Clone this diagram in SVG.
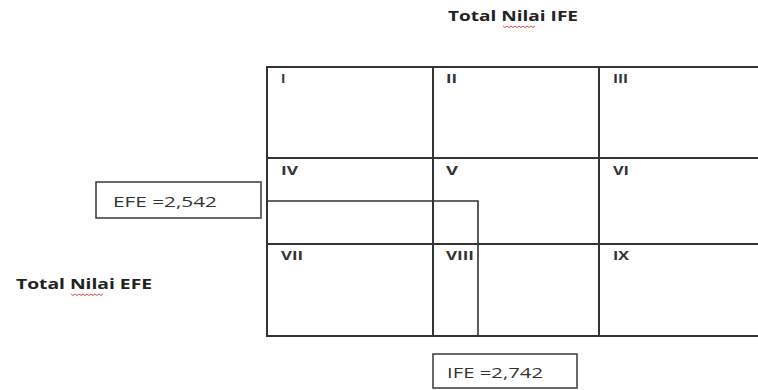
<svg xmlns="http://www.w3.org/2000/svg" width="758" height="390" viewBox="0 0 758 390">
<style>
.t{font-family:"Open Sans","Liberation Sans",sans-serif;font-weight:bold;font-size:14px;fill:#222}
.c{font-family:"Open Sans","Liberation Sans",sans-serif;font-weight:bold;font-size:13px;fill:#333}
.v{font-family:"Open Sans","Liberation Sans",sans-serif;font-size:15px;fill:#333}
.g{stroke:#333;stroke-width:2;fill:none}
.b{stroke:#444;stroke-width:1.6;fill:#fff}
.sq{stroke:#d04040;stroke-width:0.9;fill:none}
</style>
<rect width="758" height="390" fill="#fff"/>
<g id="title-ife">
<text class="t" x="448" y="21" textLength="130" lengthAdjust="spacingAndGlyphs">Total Nilai IFE</text>
<path class="sq" d="M503 26 l2 1.5 l2 -1.5 l2 1.5 l2 -1.5 l2 1.5 l2 -1.5 l2 1.5 l2 -1.5 l2 1.5 l2 -1.5 l2 1.5 l2 -1.5 l2 1.5 l2 -1.5 l2 1.5 l2 -1.5"/>
</g>
<g id="title-efe">
<text class="t" x="16" y="289" textLength="136" lengthAdjust="spacingAndGlyphs" style="font-size:15px">Total Nilai EFE</text>
<path class="sq" d="M71 294 l2 1.5 l2 -1.5 l2 1.5 l2 -1.5 l2 1.5 l2 -1.5 l2 1.5 l2 -1.5 l2 1.5 l2 -1.5 l2 1.5 l2 -1.5 l2 1.5 l2 -1.5 l2 1.5 l2 -1.5"/>
</g>
<g id="grid">
<rect class="g" x="267" y="67" width="492" height="269"/>
<line class="g" x1="433" y1="67" x2="433" y2="336"/>
<line class="g" x1="599" y1="67" x2="599" y2="336"/>
<line class="g" x1="267" y1="158" x2="759" y2="158"/>
<line class="g" x1="267" y1="244" x2="759" y2="244"/>
</g>
<g id="cells">
<text class="c" x="281" y="83">I</text>
<text class="c" x="446" y="83" textLength="11" lengthAdjust="spacingAndGlyphs">II</text>
<text class="c" x="613" y="83" textLength="15" lengthAdjust="spacingAndGlyphs">III</text>
<text class="c" x="281" y="175" textLength="17" lengthAdjust="spacingAndGlyphs">IV</text>
<text class="c" x="446" y="175" textLength="12" lengthAdjust="spacingAndGlyphs">V</text>
<text class="c" x="613" y="175" textLength="16" lengthAdjust="spacingAndGlyphs">VI</text>
<text class="c" x="281" y="260" textLength="22" lengthAdjust="spacingAndGlyphs">VII</text>
<text class="c" x="446" y="260" textLength="28" lengthAdjust="spacingAndGlyphs">VIII</text>
<text class="c" x="613" y="260" textLength="16" lengthAdjust="spacingAndGlyphs">IX</text>
</g>
<g id="connectors">
<polyline fill="none" stroke="#333" stroke-width="1.6" points="267,201 478,201 478,337"/>
</g>
<g id="efe-box">
<rect class="b" x="96" y="182" width="165" height="36"/>
<text class="v" x="113" y="207" textLength="104" lengthAdjust="spacingAndGlyphs">EFE =2,542</text>
</g>
<g id="ife-box">
<rect class="b" x="433" y="354" width="144" height="34"/>
<text class="v" x="447" y="378" textLength="96" lengthAdjust="spacingAndGlyphs">IFE =2,742</text>
</g>
</svg>
